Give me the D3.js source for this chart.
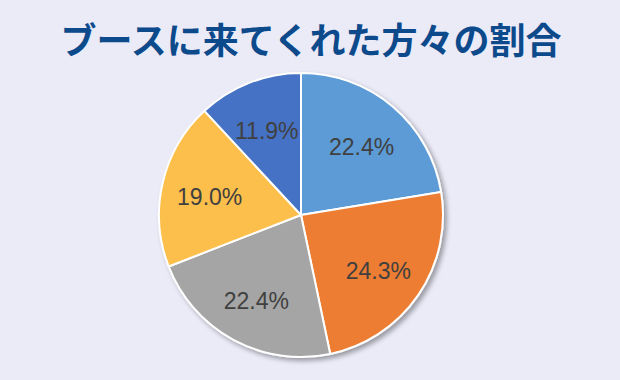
<!DOCTYPE html>
<html><head><meta charset="utf-8">
<script src="https://cdn.jsdelivr.net/npm/d3@7"></script>
<style>html,body{margin:0;padding:0;background:#ebebf8;}svg{display:block;}</style>
</head><body>
<script>
const title = "ブースに来てくれた方々の割合";
const categories = ["A", "B", "C", "D", "E"];
const values = [22.4, 24.3, 22.4, 19.0, 11.9];
const labels = ["22.4%", "24.3%", "22.4%", "19.0%", "11.9%"];
const colors = ["#5b9bd5", "#ed7d31", "#a5a5a5", "#fdbf4c", "#4472c4"];

const W = 620, H = 380;
const cx = 301, cy = 215, R = 142;

const svg = d3.select("body").append("svg").attr("width", W).attr("height", H);
svg.append("rect").attr("width", W).attr("height", H).attr("fill", "#ebebf8");

const defs = svg.append("defs");
const f = defs.append("filter").attr("id", "sh").attr("x", "-20%").attr("y", "-20%").attr("width", "140%").attr("height", "140%");
f.append("feGaussianBlur").attr("in", "SourceAlpha").attr("stdDeviation", 2.5).attr("result", "b");
f.append("feOffset").attr("in", "b").attr("dx", 3).attr("dy", 3).attr("result", "o");
f.append("feComponentTransfer").attr("in", "o").attr("result", "o2")
  .append("feFuncA").attr("type", "linear").attr("slope", 0.35);
const m = f.append("feMerge");
m.append("feMergeNode").attr("in", "o2");
m.append("feMergeNode").attr("in", "SourceGraphic");

svg.append("text").attr("x", 311).attr("y", 54).attr("text-anchor", "middle")
  .attr("font-family", "'Noto Sans CJK JP', sans-serif").attr("font-weight", 700)
  .attr("font-size", 36).attr("fill", "#0d4a8c").text(title);

const data = categories.map((c, i) => ({c, v: values[i], label: labels[i], color: colors[i]}));
const pie = d3.pie().value(d => d.v).sort(null);
const arc = d3.arc().innerRadius(0).outerRadius(R);
const labelArc = d3.arc().innerRadius(R * 0.66).outerRadius(R * 0.66);

const g = svg.append("g").attr("transform", `translate(${cx},${cy})`);
const arcs = pie(data);
g.append("g").attr("filter", "url(#sh)")
  .selectAll("path").data(arcs).join("path")
  .attr("d", arc).attr("fill", d => d.data.color)
  .attr("stroke", "#fff").attr("stroke-width", 2).attr("stroke-linejoin", "round");

g.selectAll("text.lbl").data(arcs).join("text").attr("class", "lbl")
  .attr("transform", d => `translate(${labelArc.centroid(d)})`)
  .attr("text-anchor", "middle").attr("dy", "0.5em")
  .attr("font-family", "'Liberation Sans', Arial, sans-serif")
  .attr("font-size", 23).attr("fill", "#404040")
  .text(d => d.data.label);
</script>
</body></html>
